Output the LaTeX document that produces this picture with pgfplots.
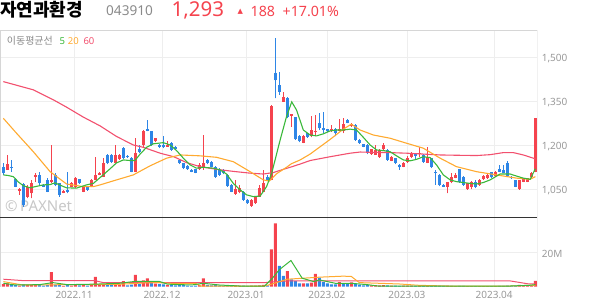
\documentclass[border=0pt]{standalone}
\usepackage{pgfplots}
\pgfplotsset{compat=1.18}
\usepackage{pgfplotstable}
\usepackage{fontspec}
\setmainfont{Noto Sans}
\newfontfamily\kr{Noto Sans CJK KR}
\newfontfamily\dejavu{DejaVu Sans}
\definecolor{cred}{HTML}{F5434E}
\definecolor{cblue}{HTML}{2E86E6}
\definecolor{cgreen}{HTML}{3AB83A}
\definecolor{corange}{HTML}{FFAA30}
\definecolor{cpink}{HTML}{F2506E}
\definecolor{cgrid}{HTML}{EEEEEE}
\definecolor{ctxt}{HTML}{999999}
\definecolor{ctitle}{HTML}{8A8A8A}
\definecolor{cframe}{HTML}{D6D6D6}

\pgfplotstableread{
n o h l c
1 1127 1139 1099 1105
2 1116 1167 1116 1136
3 1127 1150 1110 1123
4 1084 1088 1057 1059
5 1045 1053 1031 1050
6 1068 1070 991 997
7 1025 1065 1019 1059
8 1036 1082 1019 1070
9 1093 1105 1076 1099
10 1099 1110 1065 1070
11 1065 1068 1057 1059
12 1082 1088 1040 1042
13 1074 1201 1070 1082
14 1099 1105 1061 1065
15 1070 1072 1025 1031
16 1039 1047 1036 1044
17 1048 1110 1036 1042
18 1059 1074 1057 1070
19 1059 1093 1053 1088
20 1084 1086 1068 1070
21 1042 1062 1040 1059
22 1057 1059 1045 1048
23 1059 1084 1057 1082
24 1082 1161 1080 1099
25 1099 1110 1097 1107
26 1093 1156 1093 1139
27 1167 1170 1136 1139
28 1167 1170 1140 1144
29 1139 1201 1139 1167
30 1152 1170 1150 1167
31 1192 1195 1153 1156
32 1165 1167 1157 1159
33 1156 1159 1108 1110
34 1110 1224 1108 1173
35 1186 1201 1173 1178
36 1201 1252 1190 1247
37 1255 1286 1247 1250
38 1247 1250 1199 1201
39 1213 1226 1210 1224
40 1201 1203 1190 1195
41 1201 1230 1190 1193
42 1195 1215 1195 1201
43 1207 1212 1182 1184
44 1195 1198 1184 1186
45 1150 1153 1136 1139
46 1139 1141 1119 1122
47 1130 1132 1116 1118
48 1116 1118 1108 1110
49 1118 1120 1104 1107
50 1118 1139 1116 1133
51 1122 1235 1116 1139
52 1150 1153 1136 1139
53 1144 1147 1125 1127
54 1127 1130 1090 1093
55 1116 1122 1096 1099
56 1116 1120 1102 1105
57 1099 1102 1059 1061
58 1065 1068 1040 1042
59 1034 1082 1031 1051
60 1042 1065 1036 1053
61 1042 1045 1011 1014
62 1014 1016 1000 1002
63 994 1016 991 1014
64 1002 1028 1000 1025
65 1025 1065 1025 1053
66 1042 1116 1040 1070
67 1093 1099 1080 1082
68 1082 1336 1080 1334
69 1448 1565 1360 1421
70 1406 1451 1372 1383
71 1349 1380 1349 1364
72 1360 1366 1292 1298
73 1300 1306 1264 1306
74 1295 1298 1218 1220
75 1232 1234 1210 1213
76 1209 1235 1207 1232
77 1241 1243 1225 1227
78 1230 1300 1227 1252
79 1245 1303 1230 1250
80 1275 1311 1252 1258
81 1260 1315 1241 1252
82 1255 1257 1245 1247
83 1248 1269 1246 1257
84 1255 1258 1230 1241
85 1250 1289 1247 1255
86 1247 1292 1241 1273
87 1286 1291 1275 1277
88 1266 1275 1264 1272
89 1269 1271 1216 1218
90 1218 1220 1205 1207
91 1203 1205 1193 1195
92 1201 1203 1170 1173
93 1170 1188 1168 1186
94 1167 1201 1167 1184
95 1159 1186 1157 1184
96 1186 1207 1184 1201
97 1184 1186 1148 1150
98 1148 1164 1146 1161
99 1156 1158 1136 1139
100 1133 1135 1116 1125
101 1127 1143 1125 1141
102 1144 1164 1141 1156
103 1161 1178 1156 1173
104 1169 1173 1152 1164
105 1170 1195 1161 1175
106 1167 1170 1141 1144
107 1141 1195 1139 1161
108 1156 1158 1122 1125
109 1110 1116 1065 1105
110 1099 1102 1061 1065
111 1065 1067 1057 1059
112 1059 1076 1036 1076
113 1076 1105 1070 1093
114 1088 1105 1087 1099
115 1118 1120 1073 1076
116 1093 1095 1062 1065
117 1050 1072 1048 1070
118 1059 1078 1050 1076
119 1076 1082 1053 1059
120 1065 1084 1062 1082
121 1084 1097 1082 1095
122 1088 1101 1086 1099
123 1108 1110 1088 1091
124 1095 1112 1093 1110
125 1118 1133 1108 1110
126 1116 1133 1104 1105
127 1141 1145 1093 1095
128 1093 1095 1086 1088
129 1080 1082 1057 1059
130 1050 1082 1048 1080
131 1076 1086 1074 1084
132 1076 1090 1074 1088
133 1091 1110 1088 1105
134 1110 1293 1108 1293
}\ohlc

\pgfplotstableread{
n v d
1 1.5 1
2 2.0 1
3 1.2 0
4 0.9 0
5 0.7 1
6 1.3 0
7 1.1 1
8 1.2 1
9 1.0 1
10 0.9 0
11 0.6 0
12 0.9 0
13 8.6 1
14 1.2 0
15 0.9 0
16 0.5 1
17 1.0 0
18 0.7 1
19 1.1 1
20 0.8 0
21 0.9 1
22 0.6 0
23 1.0 1
24 5.8 1
25 1.2 1
26 1.5 1
27 1.2 0
28 0.9 0
29 2.4 1
30 1.3 1
31 3.3 1
32 0.8 0
33 1.2 0
34 6.9 1
35 1.6 0
36 3.7 1
37 4.9 1
38 2.2 0
39 1.8 1
40 1.5 0
41 1.4 0
42 0.9 1
43 1.0 0
44 0.8 0
45 1.0 0
46 0.9 0
47 0.6 0
48 0.5 0
49 0.6 0
50 1.0 1
51 4.9 1
52 1.0 0
53 0.8 0
54 1.0 0
55 0.6 0
56 0.5 0
57 0.7 0
58 0.6 0
59 0.8 1
60 0.6 1
61 0.7 0
62 0.5 0
63 0.6 1
64 0.6 1
65 0.8 1
66 1.0 1
67 0.8 0
68 22.0 1
69 37.3 1
70 12.2 0
71 6.3 0
72 9.2 1
73 4.3 0
74 3.3 0
75 2.0 0
76 2.0 1
77 2.0 0
78 2.4 1
79 7.6 1
80 5.3 0
81 2.7 0
82 2.0 0
83 1.4 0
84 1.4 0
85 2.7 1
86 2.0 0
87 2.0 0
88 2.6 1
89 1.6 0
90 1.2 0
91 0.8 0
92 1.0 0
93 0.8 1
94 0.9 1
95 0.8 1
96 0.9 1
97 0.8 0
98 0.6 1
99 0.7 0
100 0.5 0
101 0.6 1
102 0.6 1
103 0.7 1
104 0.5 0
105 0.6 1
106 0.6 0
107 0.7 1
108 0.6 0
109 0.8 0
110 0.7 0
111 0.5 0
112 0.6 1
113 0.5 1
114 0.4 1
115 0.5 0
116 0.5 0
117 0.4 1
118 0.4 1
119 0.4 0
120 0.4 1
121 0.4 1
122 0.4 1
123 0.4 0
124 0.4 1
125 0.5 0
126 0.5 0
127 0.6 0
128 0.5 0
129 0.6 0
130 1.0 1
131 0.8 1
132 0.8 1
133 1.0 1
134 3.4 1
}\vol

\pgfplotsset{
  common/.style={
    scale only axis, width=537.3pt,
    xmin=0.1675, xmax=134.49,
    axis line style={draw=none},
    major tick length=0pt,
    xtick={18.67,40.67,61.67,81.9,101.9,123.7},
    grid=major, grid style={cgrid, line width=0.8pt},
    yticklabel pos=right,
    tick label style={ctxt, font=\fontsize{10}{12}\selectfont},
  },
  candle/.style={only marks, mark size=0pt, mark options={draw=none, fill=none},
    error bars/y dir=plus, error bars/y explicit,
    error bars/error mark=none,
    error bars/error bar style={line width=#1}},
}

\begin{document}
\begin{tikzpicture}[x=1pt,y=1pt]
\path[use as bounding box] (0pt,0pt) rectangle (594pt,304pt);

% header
\node[anchor=base west, inner sep=0, font=\kr\bfseries\fontsize{18}{21}\selectfont] at (0pt,287.6pt) {자연과환경};
\node[anchor=base west, inner sep=0, text=ctitle, font=\fontsize{13.6}{16}\selectfont] at (106pt,288.3pt) {043910};
\node[anchor=base west, inner sep=0, text=cred, font=\fontsize{20.5}{24}\selectfont] at (171.5pt,287.3pt) {1,293};
\node[anchor=base west, inner sep=0, text=cred, font=\dejavu\fontsize{7}{8}\selectfont] at (237.3pt,290pt) {▲};
\node[anchor=base west, inner sep=0, text=cred, font=\fontsize{14.2}{16}\selectfont] at (250.5pt,287.3pt) {188};
\node[anchor=base west, inner sep=0, text=cred, font=\fontsize{14.2}{16}\selectfont] at (282.5pt,287.3pt) {+17.01\%};

% watermark
\node[anchor=base west, inner sep=0, text=black!22, font=\bfseries\fontsize{15}{17}\selectfont] at (5pt,92.3pt) {©\,PAXNet};

% price panel
\begin{axis}[common, at={(0pt,86.7pt)}, anchor=south west, height=187.3pt,
  ymin=954.5, ymax=1593,
  ytick={1050,1200,1350,1500}, yticklabels={{1,050},{1,200},{1,350},{1,500}},
  yticklabel style={anchor=west, xshift=1pt, yshift=-1.5pt},
  xticklabels={}]
\addplot[candle=1pt, error bars/error bar style={cred},
  restrict expr to domain={\thisrow{c}-\thisrow{o}}{0.5:1000}]
  table[x=n, y=l, y error expr={\thisrow{h}-\thisrow{l}}] {\ohlc};
\addplot[candle=2.9pt, error bars/error bar style={cred},
  restrict expr to domain={\thisrow{c}-\thisrow{o}}{0.5:1000}]
  table[x=n, y=o, y error expr={\thisrow{c}-\thisrow{o}}] {\ohlc};
\addplot[candle=1pt, error bars/error bar style={cblue},
  restrict expr to domain={\thisrow{c}-\thisrow{o}}{-1000:-0.5}]
  table[x=n, y=l, y error expr={\thisrow{h}-\thisrow{l}}] {\ohlc};
\addplot[candle=2.9pt, error bars/error bar style={cblue},
  restrict expr to domain={\thisrow{c}-\thisrow{o}}{-1000:-0.5}]
  table[x=n, y=c, y error expr={\thisrow{o}-\thisrow{c}}] {\ohlc};
% 60 MA
\addplot[cpink, line width=1.1pt] coordinates {
(1,1417) (8.5,1389) (13.5,1355) (16.8,1330) (21,1296) (25.2,1266) (29.3,1230) (33.5,1201) (36,1193) (40.2,1173) (43.6,1161) (46.8,1141) (50.2,1127) (54.3,1118) (58.5,1111) (62.7,1105) (66,1102) (68.5,1107) (71,1118) (72.7,1125) (75.2,1136) (77.7,1148) (82.7,1161) (87.7,1173) (90.2,1177) (92.7,1176) (97.7,1175) (101.8,1173) (106,1170) (110.2,1167) (114.3,1166) (119.3,1165) (122.7,1168) (126,1175) (128.5,1175) (131,1167) (133.5,1156) (134,1153)};
% 20 MA
\addplot[corange, line width=1.1pt] coordinates {
(1,1292) (4.3,1241) (8.5,1178) (12.7,1110) (16.8,1068) (21,1059) (23.5,1059) (25.2,1065) (29.3,1082) (33.5,1099) (37.7,1130) (41.8,1156) (45.2,1167) (50.2,1164) (54.3,1159) (58.5,1144) (62.7,1110) (66,1082) (67.5,1078) (69.3,1103) (71.8,1125) (73,1137) (75.2,1150) (77.7,1170) (82.7,1220) (86,1255) (88,1272) (90.2,1252) (93.5,1235) (97.7,1224) (101.8,1207) (106,1190) (110.2,1156) (114.3,1127) (119.3,1110) (124.3,1099) (129.3,1088) (132.7,1084) (134,1093)};
% 5 MA
\addplot[cgreen, line width=1.1pt] coordinates {
(1,1099) (2.2,1097) (3.5,1093) (4.75,1075) (6,1062) (7.7,1055) (9.3,1060) (11,1065) (12.7,1066) (13.9,1072) (15.2,1064) (16.8,1055) (19.3,1054) (21.8,1065) (23.5,1070) (25.2,1090) (27.7,1120) (29.3,1140) (31,1150) (32.7,1148) (33.9,1148) (35.2,1170) (36.8,1193) (38.5,1205) (41,1209) (42.7,1201) (44.3,1182) (46,1156) (47.7,1133) (49.3,1122) (51,1125) (53.5,1122) (55.2,1116) (56.8,1102) (58.5,1070) (60.2,1048) (61.8,1031) (63.5,1025) (65.2,1027) (66.8,1059) (68.1,1105) (70.2,1218) (71.8,1298) (73.1,1348) (74.3,1320) (76,1252) (77.7,1235) (79.3,1232) (81,1239) (82.7,1249) (84.3,1252) (86,1252) (87.7,1255) (89.3,1252) (91,1227) (92.7,1201) (94.3,1184) (96,1182) (97.7,1178) (99.3,1164) (101,1150) (102.7,1147) (104.3,1152) (106,1161) (107.7,1158) (109.3,1133) (111,1099) (112.7,1082) (114.3,1076) (116,1073) (117.7,1070) (119.3,1068) (121,1073) (122.7,1082) (125.2,1102) (127.7,1102) (129.3,1095) (131,1088) (132.7,1084) (134,1120)};
\draw[cframe, line width=0.8pt] (rel axis cs:0,0) -- (rel axis cs:0,1) -- (rel axis cs:1,1) -- (rel axis cs:1,0);
\end{axis}

% volume panel
\begin{axis}[common, at={(0pt,17.3pt)}, anchor=south west, height=69.4pt,
  ymin=0, ymax=40.8,
  ytick={20}, yticklabels={20M},
  yticklabel style={anchor=west, xshift=1pt, yshift=-1.5pt},
  xticklabels={2022.11,2022.12,2023.01,2023.02,2023.03,2023.04},
  xticklabel style={yshift=-1.5pt}]
\addplot[ybar, bar width=2.9pt, bar shift=0pt, draw=none, fill=cred,
  restrict expr to domain={\thisrow{d}}{0.5:1.5}]
  table[x=n, y=v] {\vol};
\addplot[ybar, bar width=2.9pt, bar shift=0pt, draw=none, fill=cblue,
  restrict expr to domain={\thisrow{d}}{-0.5:0.5}]
  table[x=n, y=v] {\vol};
\addplot[cpink, line width=1pt] coordinates {
(1,4.4) (5.8,3.6) (23.8,3.6) (26,2.4) (66.3,2.4) (68.2,2.8) (72,3.4) (127.7,3.4) (132.4,1.6) (134,1.6)};
\addplot[corange, line width=1pt] coordinates {
(1,3.0) (5.8,1.0) (30,1.4) (36,2.2) (40,2.4) (43,2.0) (49,2.0) (50.5,0.4) (66.3,0.4) (68.2,1.6) (72,4.4) (76,5.0) (80,5.6) (86,6.2) (88,6.0) (90,2.4) (95,2.0) (100,1.6) (105,0.8) (111.7,0.4) (127.7,0.4) (132.4,0.8) (134,0.8)};
\addplot[cgreen, line width=1pt] coordinates {
(1,2.0) (4,1.0) (10,1.2) (13.4,2.4) (17,1.2) (24,1.5) (30,2.0) (34.2,3.2) (36.1,3.2) (39.9,3.2) (42,1.5) (48,1.0) (51,2.0) (55,1.0) (60,0.4) (66.3,0.4) (68.2,4.8) (70,10) (72.9,15.4) (75.7,5) (78.6,3) (80,4) (84,2) (88,2) (92,1.2) (94.6,0.4) (127.7,0.4) (132.4,0.8) (134,1.2)};
\draw[cframe, line width=0.8pt] (rel axis cs:0,0) -- (rel axis cs:0,1);
\draw[cframe, line width=0.8pt] (rel axis cs:1,0) -- (rel axis cs:1,1);
\draw[black!80, line width=1.1pt] (rel axis cs:0,1) -- (rel axis cs:1,1);
\end{axis}

% legend
\node[anchor=base west, inner sep=0, text=ctitle, font=\kr\fontsize{10}{12}\selectfont] at (6.7pt,259.5pt) {이동평균선};
\node[anchor=base west, inner sep=0, text=cgreen, font=\fontsize{9.5}{11}\selectfont] at (59.3pt,259.5pt) {5};
\node[anchor=base west, inner sep=0, text=corange, font=\fontsize{9.5}{11}\selectfont] at (67.7pt,259.5pt) {20};
\node[anchor=base west, inner sep=0, text=cpink, font=\fontsize{9.5}{11}\selectfont] at (83.3pt,259.5pt) {60};
\end{tikzpicture}
\end{document}
